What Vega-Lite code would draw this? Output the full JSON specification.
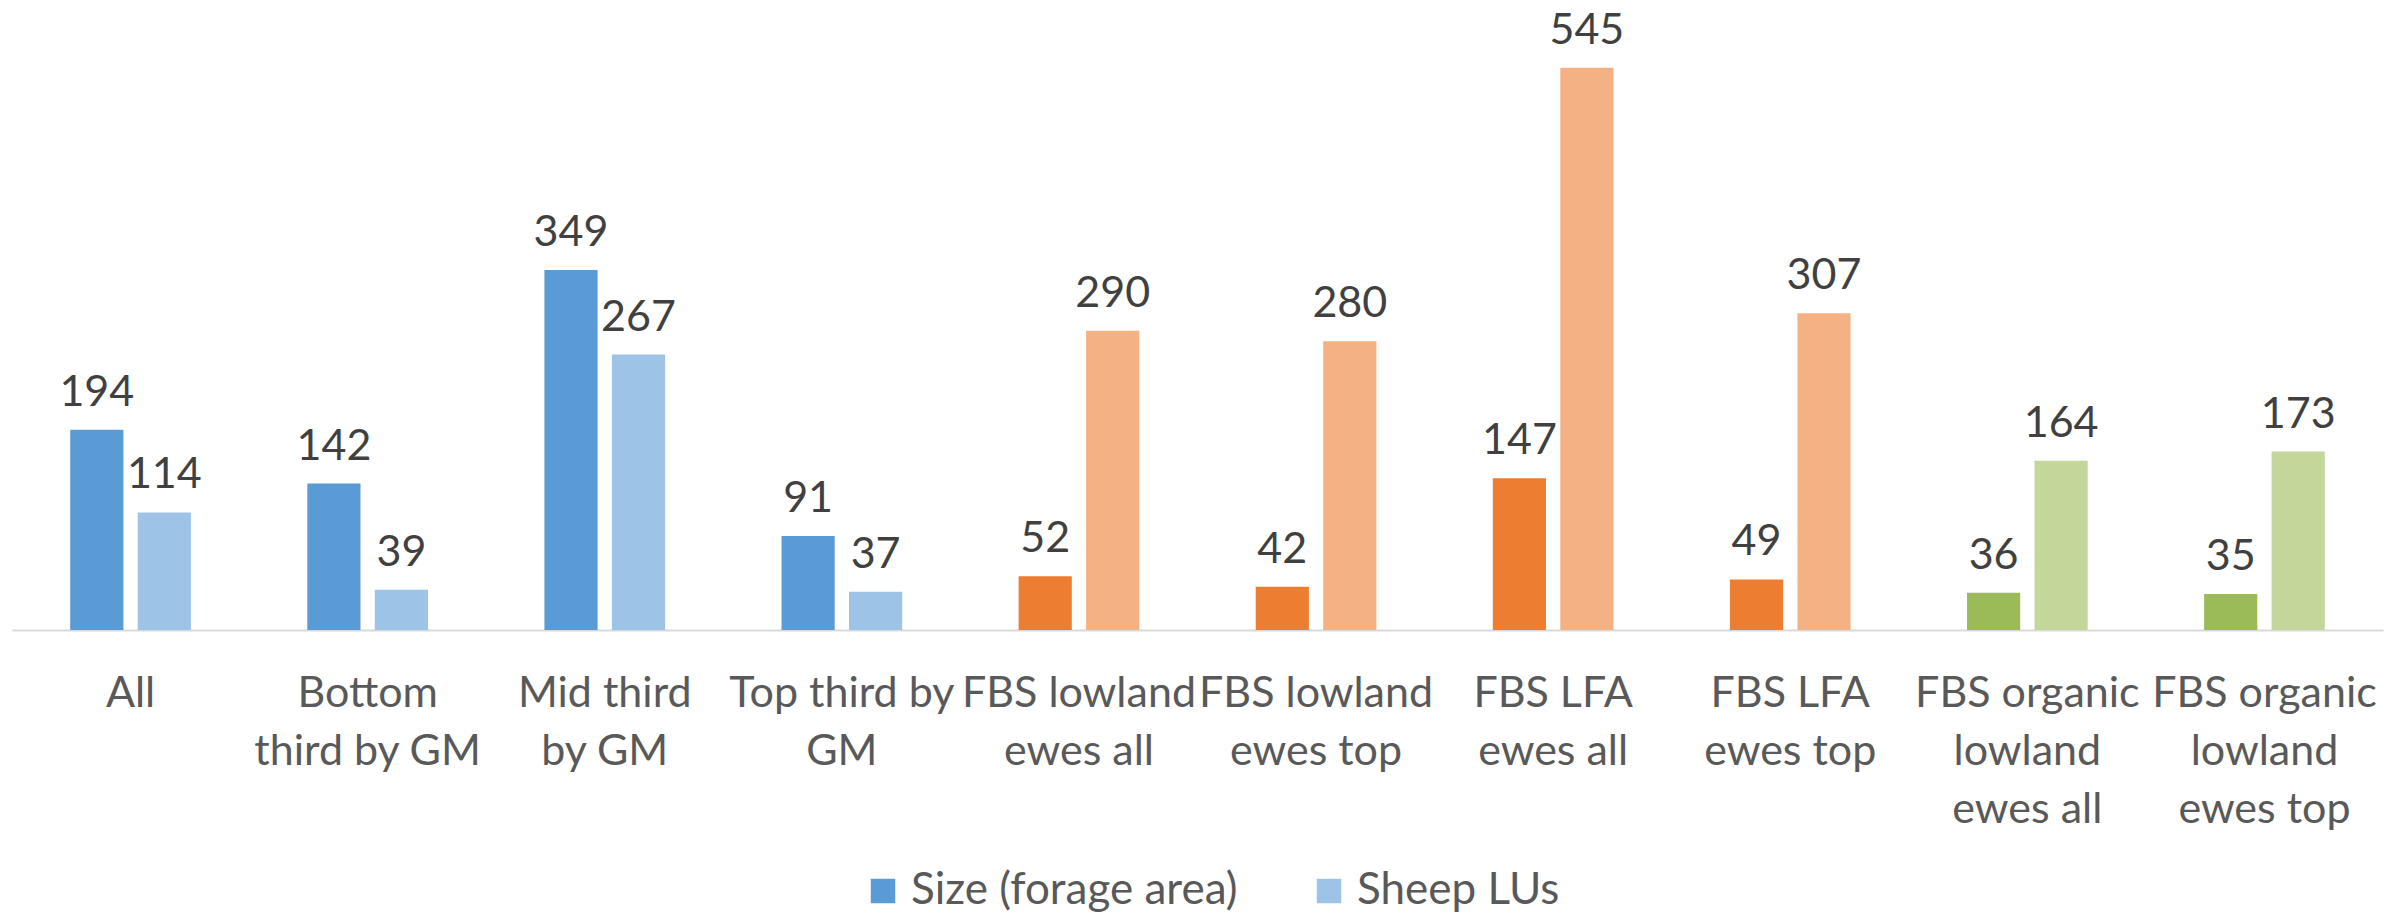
{
  "$schema": "https://vega.github.io/schema/vega-lite/v6.json",
  "autosize": {"type": "none"},
  "padding": {"left": 12, "top": 11, "right": 24, "bottom": 284},
  "width": 2371,
  "height": 619,
  "background": "white",
  "config": {
    "view": {"stroke": null},
    "font": "Lato",
    "text": {"font": "Lato"}
  },
  "data": {
    "values": [
      {"category": "All", "group": "All farms", "series": "Size (forage area)", "value": 194},
      {"category": "All", "group": "All farms", "series": "Sheep LUs", "value": 114},
      {"category": "Bottom third by GM", "group": "All farms", "series": "Size (forage area)", "value": 142},
      {"category": "Bottom third by GM", "group": "All farms", "series": "Sheep LUs", "value": 39},
      {"category": "Mid third by GM", "group": "All farms", "series": "Size (forage area)", "value": 349},
      {"category": "Mid third by GM", "group": "All farms", "series": "Sheep LUs", "value": 267},
      {"category": "Top third by GM", "group": "All farms", "series": "Size (forage area)", "value": 91},
      {"category": "Top third by GM", "group": "All farms", "series": "Sheep LUs", "value": 37},
      {"category": "FBS lowland ewes all", "group": "FBS lowland/LFA", "series": "Size (forage area)", "value": 52},
      {"category": "FBS lowland ewes all", "group": "FBS lowland/LFA", "series": "Sheep LUs", "value": 290},
      {"category": "FBS lowland ewes top", "group": "FBS lowland/LFA", "series": "Size (forage area)", "value": 42},
      {"category": "FBS lowland ewes top", "group": "FBS lowland/LFA", "series": "Sheep LUs", "value": 280},
      {"category": "FBS LFA ewes all", "group": "FBS lowland/LFA", "series": "Size (forage area)", "value": 147},
      {"category": "FBS LFA ewes all", "group": "FBS lowland/LFA", "series": "Sheep LUs", "value": 545},
      {"category": "FBS LFA ewes top", "group": "FBS lowland/LFA", "series": "Size (forage area)", "value": 49},
      {"category": "FBS LFA ewes top", "group": "FBS lowland/LFA", "series": "Sheep LUs", "value": 307},
      {"category": "FBS organic lowland ewes all", "group": "FBS organic", "series": "Size (forage area)", "value": 36},
      {"category": "FBS organic lowland ewes all", "group": "FBS organic", "series": "Sheep LUs", "value": 164},
      {"category": "FBS organic lowland ewes top", "group": "FBS organic", "series": "Size (forage area)", "value": 35},
      {"category": "FBS organic lowland ewes top", "group": "FBS organic", "series": "Sheep LUs", "value": 173}
    ]
  },
  "encoding": {
    "x": {
      "field": "category",
      "type": "nominal",
      "sort": null,
      "scale": {"paddingInner": 0, "paddingOuter": 0},
      "axis": {
        "title": null,
        "labelAngle": 0,
        "ticks": false,
        "tickSize": 0,
        "domainColor": "#D9D9D9",
        "domainWidth": 2,
        "labelFont": "Lato",
        "labelFontSize": 43,
        "labelColor": "#595959",
        "labelLineHeight": 58,
        "labelPadding": 42,
        "labelBaseline": "top",
        "labelLimit": 0,
        "labelOverlap": false,
        "labelExpr": "({'All': 'All', 'Bottom third by GM': ['Bottom', 'third by GM'], 'Mid third by GM': ['Mid third', 'by GM'], 'Top third by GM': ['Top third by', 'GM'], 'FBS lowland ewes all': ['FBS lowland', 'ewes all'], 'FBS lowland ewes top': ['FBS lowland', 'ewes top'], 'FBS LFA ewes all': ['FBS LFA', 'ewes all'], 'FBS LFA ewes top': ['FBS LFA', 'ewes top'], 'FBS organic lowland ewes all': ['FBS organic', 'lowland', 'ewes all'], 'FBS organic lowland ewes top': ['FBS organic', 'lowland', 'ewes top']})[datum.value]"
      }
    },
    "xOffset": {
      "field": "series",
      "type": "nominal",
      "scale": {"domain": ["Size (forage area)", "Sheep LUs"], "paddingInner": 0.212, "paddingOuter": 0.8625}
    },
    "y": {
      "field": "value",
      "type": "quantitative",
      "scale": {"domain": [0, 600], "nice": false},
      "axis": null
    }
  },
  "layer": [
    {
      "transform": [{"filter": "datum.group === 'All farms'"}],
      "mark": {"type": "bar"},
      "encoding": {
        "color": {
          "field": "series",
          "type": "nominal",
          "scale": {"domain": ["Size (forage area)", "Sheep LUs"], "range": ["#5B9BD5", "#9DC3E6"]},
          "legend": {
            "title": null,
            "orient": "none",
            "direction": "horizontal",
            "legendX": 849,
            "legendY": 858,
            "symbolType": "square",
            "symbolSize": 600,
            "symbolStrokeWidth": 0,
            "labelFont": "Lato",
            "labelFontSize": 44,
            "labelColor": "#595959",
            "labelOffset": 6,
            "columnPadding": 69,
            "labelLimit": 0
          }
        }
      }
    },
    {
      "transform": [{"filter": "datum.group !== 'All farms' && datum.series === 'Size (forage area)'"}],
      "mark": {"type": "bar"},
      "encoding": {
        "color": {
          "field": "group",
          "type": "nominal",
          "scale": {"domain": ["FBS lowland/LFA", "FBS organic"], "range": ["#ED7D31", "#9BBB59"]},
          "legend": null
        }
      }
    },
    {
      "transform": [{"filter": "datum.group !== 'All farms' && datum.series === 'Sheep LUs'"}],
      "mark": {"type": "bar"},
      "encoding": {
        "color": {
          "field": "group",
          "type": "nominal",
          "scale": {"domain": ["FBS lowland/LFA", "FBS organic"], "range": ["#F4B183", "#C4D79B"]},
          "legend": null
        }
      }
    },
    {
      "mark": {"type": "text", "baseline": "alphabetic", "dy": -24, "fontSize": 43, "color": "#404040", "font": "Lato"},
      "encoding": {"text": {"field": "value", "type": "quantitative"}}
    }
  ],
  "resolve": {"scale": {"color": "independent"}}
}
